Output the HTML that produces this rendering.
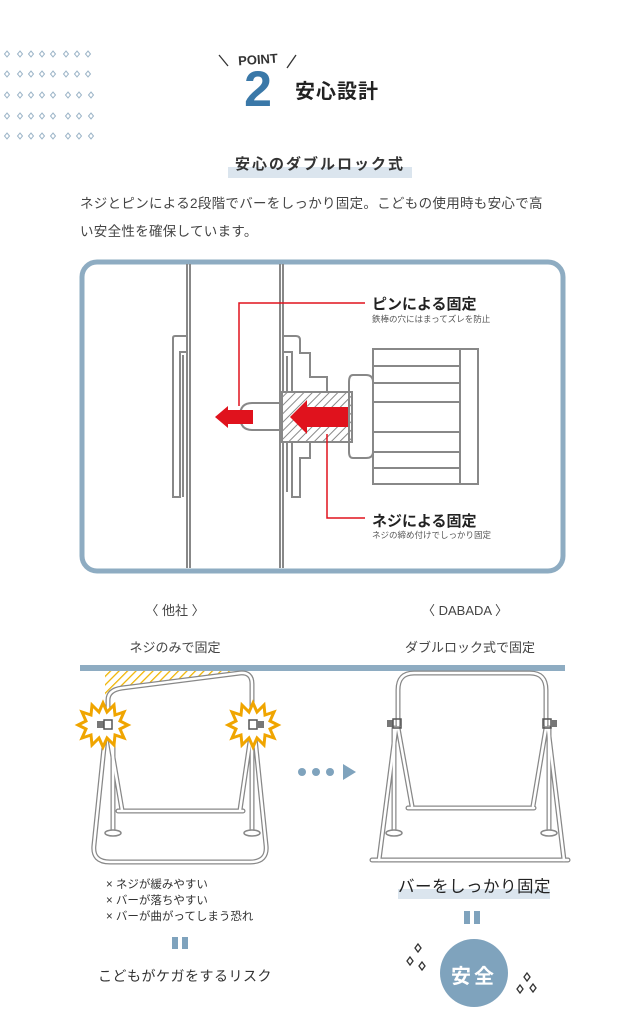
<!DOCTYPE html>
<html><head><meta charset="utf-8"><style>
html,body{margin:0;padding:0;background:#fff}
body{width:640px;height:1024px;position:relative;overflow:hidden;font-family:"Liberation Sans","Noto Sans CJK JP",sans-serif;color:#333}
.t{position:absolute;white-space:nowrap}
</style></head><body>
<svg width="640" height="1024" style="position:absolute;left:0;top:0" xmlns="http://www.w3.org/2000/svg">
<defs>
<pattern id="hatch" width="6" height="6" patternUnits="userSpaceOnUse" patternTransform="rotate(45)"><rect width="6" height="6" fill="#fff"/><line x1="0" y1="0" x2="0" y2="6" stroke="#888" stroke-width="2"/></pattern>
<pattern id="yh" width="6" height="6" patternUnits="userSpaceOnUse" patternTransform="rotate(45)"><rect width="6" height="6" fill="#fff"/><line x1="0" y1="0" x2="0" y2="6" stroke="#f0b400" stroke-width="2.5"/></pattern>
<g id="dia"><path d="M0,-3 L2.5,0 L0,3 L-2.5,0Z" fill="none" stroke="#9db5c8" stroke-width="1"/></g>
<g id="sp"><path d="M0,-4 L3,0 L0,4 L-3,0Z" fill="none" stroke="#333" stroke-width="1.3"/></g>
</defs>
<!-- diamond grid -->
<g>
<use href="#dia" x="7" y="54"/><use href="#dia" x="20" y="54"/><use href="#dia" x="31" y="54"/><use href="#dia" x="42" y="54"/><use href="#dia" x="53" y="54"/><use href="#dia" x="66" y="54"/><use href="#dia" x="77" y="54"/><use href="#dia" x="88" y="54"/>
<use href="#dia" x="7" y="74"/><use href="#dia" x="20" y="74"/><use href="#dia" x="31" y="74"/><use href="#dia" x="42" y="74"/><use href="#dia" x="53" y="74"/><use href="#dia" x="66" y="74"/><use href="#dia" x="77" y="74"/><use href="#dia" x="88" y="74"/>
<use href="#dia" x="7" y="95"/><use href="#dia" x="20" y="95"/><use href="#dia" x="31" y="95"/><use href="#dia" x="42" y="95"/><use href="#dia" x="53" y="95"/><use href="#dia" x="68" y="95"/><use href="#dia" x="79" y="95"/><use href="#dia" x="91" y="95"/>
<use href="#dia" x="7" y="116"/><use href="#dia" x="20" y="116"/><use href="#dia" x="31" y="116"/><use href="#dia" x="42" y="116"/><use href="#dia" x="53" y="116"/><use href="#dia" x="68" y="116"/><use href="#dia" x="79" y="116"/><use href="#dia" x="91" y="116"/>
<use href="#dia" x="7" y="136"/><use href="#dia" x="20" y="136"/><use href="#dia" x="31" y="136"/><use href="#dia" x="42" y="136"/><use href="#dia" x="53" y="136"/><use href="#dia" x="68" y="136"/><use href="#dia" x="79" y="136"/><use href="#dia" x="91" y="136"/>
</g>
<!-- POINT -->
<line x1="219" y1="55" x2="228" y2="66" stroke="#333" stroke-width="1.3"/>
<line x1="296" y1="55" x2="287" y2="68" stroke="#333" stroke-width="1.3"/>
<text x="258" y="64" font-size="13" font-weight="bold" text-anchor="middle" fill="#333" font-family="Liberation Sans,sans-serif" transform="rotate(-4 258 60)">POINT</text>
<text x="258" y="106" font-size="50" font-weight="bold" text-anchor="middle" fill="#3a78a8" font-family="Liberation Sans,sans-serif">2</text>
<!-- subtitle bar -->
<rect x="228" y="167" width="184" height="11" fill="#dbe5ee"/>
<!-- diagram box -->
<rect x="82" y="262" width="481" height="309" rx="15" fill="#fff" stroke="#8eacc2" stroke-width="5"/>
<g fill="none" stroke="#888" stroke-width="2">
<line x1="187" y1="264" x2="187" y2="568"/><line x1="190" y1="264" x2="190" y2="568"/>
<line x1="280" y1="264" x2="280" y2="568"/><line x1="283" y1="264" x2="283" y2="568"/>
<path d="M187,336 L175,336 Q173,336 173,338 L173,497 L180,497 L180,352 L187,352"/>
<path d="M183,355 L183,497"/>
<path d="M283,336 L296,336 Q300,336 300,340 L300,353 L310,353 L310,377 L327,377 L327,392"/>
<path d="M283,352 L292,352 L292,497 L300,497 L300,458 L310,458 L310,442 L327,442 L327,442"/>
<path d="M287,356 L287,492"/>
<path d="M282,403 L252,403 Q240,403 240,416 Q240,430 252,430 L282,430"/>
<rect x="282" y="392" width="70" height="50" fill="url(#hatch)"/>
<path d="M353,375 L366,375 Q373,375 373,382 L373,452 Q373,458 366,458 L353,458 Q349,458 349,452 L349,382 Q349,375 353,375"/>
<rect x="373" y="349" width="105" height="135"/>
<line x1="373" y1="366" x2="460" y2="366"/><line x1="373" y1="383" x2="460" y2="383"/><line x1="373" y1="402" x2="460" y2="402"/><line x1="373" y1="432" x2="460" y2="432"/><line x1="373" y1="452" x2="460" y2="452"/><line x1="373" y1="468" x2="460" y2="468"/>
<line x1="460" y1="349" x2="460" y2="484"/>
</g>
<g fill="#e0121d">
<path d="M215,417 L228,406 L228,410 L253,410 L253,424 L228,424 L228,428Z"/>
<path d="M290,417 L307,400 L307,407 L348,407 L348,427 L307,427 L307,434Z"/>
</g>
<g fill="none" stroke="#e0121d" stroke-width="1.5">
<path d="M239,406 L239,303 L365,303"/>
<path d="M327,434 L327,518 L365,518"/>
</g>
<!-- blue line -->
<rect x="80" y="665" width="485" height="6" fill="#8eacc2"/>
<!-- left frame -->
<path d="M105,671 L235,671 L112,690 L105,700Z" fill="url(#yh)"/>
<g fill="none" stroke-linecap="round" stroke-linejoin="round">
<g stroke="#888" stroke-width="5">
<path d="M108,725 L108,700 Q108,690 122,688 L240,673 Q252,672 252,684 L252,725"/>
<path d="M106,728 L94,845 Q92,862 110,862 L250,862 Q268,862 266,845 L254,728"/>
<path d="M108,728 L122,810"/><path d="M252,728 L240,810"/>
<path d="M113,728 L113,830"/><path d="M252,728 L252,830"/>
<path d="M118,811 L243,811"/>
</g>
<g stroke="#fff" stroke-width="2.5">
<path d="M108,725 L108,700 Q108,690 122,688 L240,673 Q252,672 252,684 L252,725"/>
<path d="M106,728 L94,845 Q92,862 110,862 L250,862 Q268,862 266,845 L254,728"/>
<path d="M108,728 L122,810"/><path d="M252,728 L240,810"/>
<path d="M113,728 L113,830"/><path d="M252,728 L252,830"/>
<path d="M118,811 L243,811"/>
</g>
</g>
<ellipse cx="113" cy="833" rx="8" ry="3" fill="#fff" stroke="#888" stroke-width="1.5"/>
<ellipse cx="252" cy="833" rx="8" ry="3" fill="#fff" stroke="#888" stroke-width="1.5"/>
<g fill="#fff" stroke="#f0a500" stroke-width="3">
<polygon points="103,703 107,712 114,705 115,715 124,712 120,721 128,725 120,729 124,738 115,735 114,745 107,738 103,747 99,738 92,745 91,735 82,738 86,729 78,725 86,721 82,712 91,715 92,705 99,712"/>
<polygon points="253,703 257,712 264,705 265,715 274,712 270,721 278,725 270,729 274,738 265,735 264,745 257,738 253,747 249,738 242,745 241,735 232,738 236,729 228,725 236,721 232,712 241,715 242,705 249,712"/>
</g>
<rect x="97" y="721" width="7" height="7" fill="#777"/><rect x="104" y="720" width="8" height="9" fill="none" stroke="#555" stroke-width="1.5"/>
<rect x="249" y="720" width="8" height="9" fill="none" stroke="#555" stroke-width="1.5"/><rect x="257" y="721" width="7" height="7" fill="#777"/>
<!-- dots arrow -->
<g fill="#7fa3bd"><circle cx="302" cy="772" r="4"/><circle cx="316" cy="772" r="4"/><circle cx="330" cy="772" r="4"/><polygon points="343,764 356,772 343,780"/></g>
<!-- right frame -->
<g fill="none" stroke-linecap="round" stroke-linejoin="round">
<g stroke="#888" stroke-width="5">
<path d="M398,725 L398,690 Q398,673 414,673 L530,673 Q546,673 546,690 L546,725"/>
<path d="M396,728 L379,860"/><path d="M548,728 L564,860"/>
<path d="M398,728 L412,806"/><path d="M546,728 L533,806"/>
<path d="M394,728 L394,830"/><path d="M549,728 L549,830"/>
<path d="M408,808 L534,808"/>
<path d="M372,860 L568,860"/>
</g>
<g stroke="#fff" stroke-width="2.5">
<path d="M398,725 L398,690 Q398,673 414,673 L530,673 Q546,673 546,690 L546,725"/>
<path d="M396,728 L379,860"/><path d="M548,728 L564,860"/>
<path d="M398,728 L412,806"/><path d="M546,728 L533,806"/>
<path d="M394,728 L394,830"/><path d="M549,728 L549,830"/>
<path d="M408,808 L534,808"/>
<path d="M372,860 L568,860"/>
</g>
</g>
<ellipse cx="394" cy="833" rx="8" ry="3" fill="#fff" stroke="#888" stroke-width="1.5"/>
<ellipse cx="549" cy="833" rx="8" ry="3" fill="#fff" stroke="#888" stroke-width="1.5"/>
<rect x="387" y="720" width="6" height="7" fill="#777"/><rect x="393" y="719" width="8" height="9" fill="none" stroke="#555" stroke-width="1.5"/>
<rect x="543" y="719" width="8" height="9" fill="none" stroke="#555" stroke-width="1.5"/><rect x="551" y="720" width="6" height="7" fill="#777"/>
<!-- bottom -->
<rect x="172" y="937" width="6" height="12" fill="#7fa3bd"/><rect x="182" y="937" width="6" height="12" fill="#7fa3bd"/>
<rect x="398" y="889" width="152" height="10" fill="#dbe5ee"/>
<rect x="464" y="911" width="6" height="13" fill="#7fa3bd"/><rect x="474" y="911" width="6" height="13" fill="#7fa3bd"/>
<circle cx="474" cy="973" r="34" fill="#7fa3bd"/>
<use href="#sp" x="418" y="948"/><use href="#sp" x="410" y="961"/><use href="#sp" x="422" y="966"/>
<use href="#sp" x="527" y="977"/><use href="#sp" x="520" y="989"/><use href="#sp" x="533" y="988"/>
</svg>
<div class="t" style="left:295px;top:75px;font-size:20px;font-weight:bold;color:#222;letter-spacing:1px">安心設計</div>
<div class="t" style="left:0;width:640px;text-align:center;top:153px;font-size:15px;font-weight:bold;letter-spacing:2px;color:#333">安心のダブルロック式</div>
<div class="t" style="left:80px;top:190px;font-size:13.5px;line-height:28px;color:#444;letter-spacing:0.3px">ネジとピンによる2段階でバーをしっかり固定。こどもの使用時も安心で高<br>い安全性を確保しています。</div>
<div class="t" style="left:372px;top:293px;font-size:15px;font-weight:bold;color:#222">ピンによる固定</div>
<div class="t" style="left:372px;top:313px;font-size:8.5px;color:#555">鉄棒の穴にはまってズレを防止</div>
<div class="t" style="left:372px;top:510px;font-size:15px;font-weight:bold;color:#222">ネジによる固定</div>
<div class="t" style="left:372px;top:529px;font-size:8.5px;color:#555">ネジの締め付けでしっかり固定</div>
<div class="t" style="left:95px;width:160px;text-align:center;top:600px;font-size:13px;color:#444">〈 他社 〉</div>
<div class="t" style="left:385px;width:160px;text-align:center;top:600px;font-size:13px;color:#444">〈 DABADA 〉</div>
<div class="t" style="left:95px;width:160px;text-align:center;top:637px;font-size:13px;color:#444">ネジのみで固定</div>
<div class="t" style="left:385px;width:170px;text-align:center;top:637px;font-size:13px;color:#444">ダブルロック式で固定</div>
<div class="t" style="left:106px;top:877px;font-size:11.5px;line-height:16px;color:#333">× ネジが緩みやすい<br>× バーが落ちやすい<br>× バーが曲がってしまう恐れ</div>
<div class="t" style="left:98px;top:966px;font-size:14px;color:#333;letter-spacing:0.5px">こどもがケガをするリスク</div>
<div class="t" style="left:398px;top:873px;font-size:16.5px;color:#222;letter-spacing:0.5px">バーをしっかり固定</div>
<div class="t" style="left:440px;width:68px;text-align:center;top:960px;font-size:20px;font-weight:bold;color:#fff;letter-spacing:3px">安全</div>
</body></html>
